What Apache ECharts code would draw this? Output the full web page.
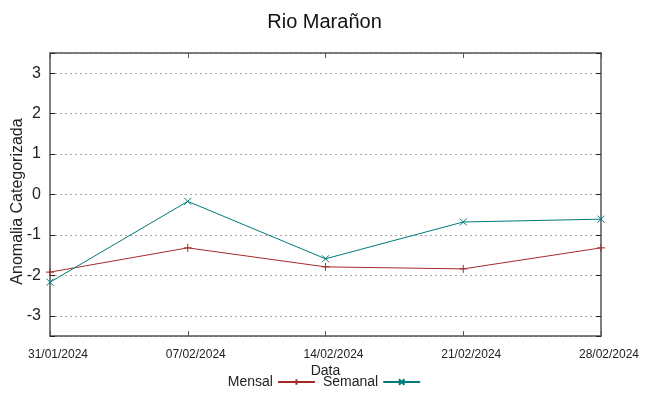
<!DOCTYPE html>
<html>
<head>
<meta charset="utf-8">
<script src="https://cdn.jsdelivr.net/npm/echarts@6/dist/echarts.min.js"></script>
<style>
  html, body { margin: 0; padding: 0; background: #fff; }
  #chart { width: 649px; height: 396px; }
</style>
</head>
<body>
<div id="chart"></div>
<script>
// datos
var fechas = ['31/01/2024', '07/02/2024', '14/02/2024', '21/02/2024', '28/02/2024'];
var mensal = [-1.92, -1.32, -1.79, -1.84, -1.32];
var semanal = [-2.17, -0.17, -1.59, -0.68, -0.61];
var yMin = -3.5;
var yMax = 3.5;

var FONT = 'Liberation Sans';
var frame = { show: true, onZero: false, lineStyle: { color: '#555', width: 1.5 } };
var plus = 'path://M0,5L10,5M5,0L5,10';
var cross = 'path://M0,0L10,10M0,10L10,0';

// solo etiquetas enteras
function etiqueta(v) {
    return Math.abs(v - Math.round(v)) < 1e-6 ? String(Math.round(v)) : '';
}

var chart = echarts.init(document.getElementById('chart'));
var option = {
    animation: false,
    textStyle: { fontFamily: FONT },
    title: {
        text: 'Rio Marañon',
        left: 'center',
        top: 7,
        textStyle: { fontFamily: FONT, fontSize: 20, fontWeight: 'normal', color: '#111' }
    },
    legend: {
        bottom: 2,
        left: 'center',
        align: 'right',
        itemWidth: 37,
        itemHeight: 7,
        itemGap: 7,
        textStyle: { fontFamily: FONT, fontSize: 14, color: '#222' },
        data: ['Mensal', 'Semanal']
    },
    grid: { left: 50, right: 48, top: 53, bottom: 60, outerBoundsMode: 'none', containLabel: false },
    xAxis: [
        {
            type: 'category',
            data: fechas,
            boundaryGap: false,
            name: 'Data',
            nameLocation: 'middle',
            nameGap: 28,
            nameMoveOverlap: false,
            nameTextStyle: { fontFamily: FONT, fontSize: 14, color: '#222' },
            axisLine: frame,
            axisTick: { show: true, inside: true, length: 5, lineStyle: { color: '#555' } },
            axisLabel: { fontFamily: FONT, fontSize: 12, color: '#222', margin: 13, padding: [0, 0, 0, 16] },
            splitLine: { show: false }
        },
        {
            type: 'category',
            data: fechas,
            boundaryGap: false,
            position: 'top',
            axisLine: frame,
            axisTick: { show: true, inside: true, length: 5, lineStyle: { color: '#555' } },
            axisLabel: { show: false },
            splitLine: { show: false }
        }
    ],
    yAxis: [
        {
            type: 'value',
            min: yMin,
            max: yMax,
            splitNumber: 7,
            name: 'Anomalia Categorizada',
            nameLocation: 'middle',
            nameGap: 24,
            nameMoveOverlap: false,
            nameTextStyle: { fontFamily: FONT, fontSize: 16, color: '#222', padding: [0, 14, 0, 0] },
            axisLine: frame,
            axisTick: { show: true, inside: true, length: 5, lineStyle: { color: '#222' } },
            axisLabel: { fontFamily: FONT, fontSize: 16, color: '#222', margin: 9, formatter: etiqueta },
            splitLine: { show: true, lineStyle: { color: '#aaa', type: [2, 3], width: 1 } }
        },
        {
            type: 'value',
            min: yMin,
            max: yMax,
            splitNumber: 7,
            position: 'right',
            axisLine: frame,
            axisTick: { show: true, inside: true, length: 5, lineStyle: { color: '#222' } },
            axisLabel: { show: false },
            splitLine: { show: false }
        }
    ],
    series: [
        {
            name: 'Mensal',
            type: 'line',
            data: mensal,
            symbol: plus,
            symbolSize: 8,
            showAllSymbol: true,
            lineStyle: { color: '#a52a2a', width: 1 },
            itemStyle: { color: '#a52a2a', borderColor: '#a52a2a', borderWidth: 1 }
        },
        {
            name: 'Semanal',
            type: 'line',
            data: semanal,
            symbol: cross,
            symbolSize: 7,
            showAllSymbol: true,
            lineStyle: { color: '#007a7a', width: 1 },
            itemStyle: { color: '#007a7a', borderColor: '#007a7a', borderWidth: 1 }
        }
    ]
};
chart.setOption(option);
</script>
</body>
</html>
